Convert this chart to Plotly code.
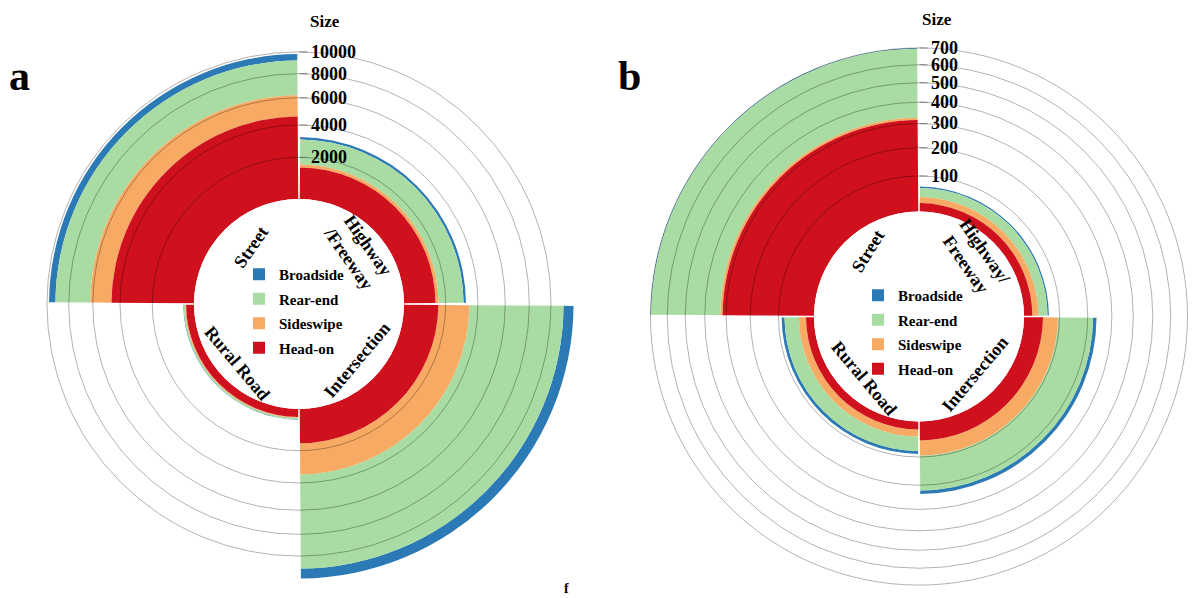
import numpy as np
import plotly.graph_objects as go

W, H = 1200, 598
PAGE_OFFSET = 8  # default body margin of the html page

# ---------------- data ----------------
categories = ["Street", "Highway/Freeway", "Intersection", "Rural Road"]
labels_a = ["Street", "Highway<br>/Freeway", "Intersection", "Rural Road"]
labels_b = ["Street", "Highway/<br>Freeway", "Intersection", "Rural Road"]
collision_types = ["Head-on", "Sideswipe", "Rear-end", "Broadside"]
colors = ["#cf111d", "#f7aa64", "#a9dca2", "#2b79b5"]

# panel a (order of categories above)
a_head_on = [4600, 1450, 1600, 330]
a_sideswipe = [1600, 160, 1830, 40]
a_rear_end = [3000, 1450, 7800, 60]
a_broadside = [600, 150, 1030, 20]
a_ticks = [2000, 4000, 6000, 8000, 10000]
a_tick_labels = ["2000", "4000", "6000", "8000", "10000"]

# panel b
b_head_on = [316, 21, 50, 20]
b_sideswipe = [10, 16, 45, 19]
b_rear_end = [370, 26, 126, 42]
b_broadside = [4, 4, 14, 9]
b_ticks = [100, 200, 300, 400, 500, 600, 700]
b_tick_labels = ["100", "200", "300", "400", "500", "600", "700"]

# ---------------- helpers ----------------
def px(x):
    return (x - PAGE_OFFSET) / W

def py(y):
    return 1 - (y - PAGE_OFFSET) / H

def radial(v, r0, k):
    # area-proportional radial scale: r^2 = r0^2 + k*v
    return np.sqrt(r0 ** 2 + k * np.asarray(v, dtype=float))

panels = [
    dict(name="a", sub="polar", grid="polar3", legend="legend",
         cx=299, cy=304, r0=105.0, k=5.25, umax=282.0,
         series=[a_head_on, a_sideswipe, a_rear_end, a_broadside],
         ticks=a_ticks, tick_labels=a_tick_labels),
    dict(name="b", sub="polar2", grid="polar4", legend="legend2",
         cx=919, cy=316.5, r0=105.0, k=87.25, umax=276.0,
         series=[b_head_on, b_sideswipe, b_rear_end, b_broadside],
         ticks=b_ticks, tick_labels=b_tick_labels),
]

theta = [135 - 90 * i for i in range(len(categories))]
serif = "Liberation Serif"

fig = go.Figure()
layout = {}

for p in panels:
    # cumulative stacking (Head-on innermost)
    lowers, uppers = [], []
    cum = np.zeros(len(categories))
    for vals in p["series"]:
        lowers.append(cum.copy())
        cum = cum + np.asarray(vals, dtype=float)
        uppers.append(cum.copy())
    # add outermost first so the legend lists Broadside on top
    for i in reversed(range(len(collision_types))):
        base = radial(lowers[i], p["r0"], p["k"])
        top = radial(uppers[i], p["r0"], p["k"])
        fig.add_trace(go.Barpolar(
            r=top - base, base=base, theta=theta, width=89.2,
            name=collision_types[i], marker=dict(color=colors[i], line=dict(width=0)),
            subplot=p["sub"], legend=p["legend"],
            legendgroup=p["name"] + collision_types[i], customdata=categories,
        ))
    dom_x = [px(p["cx"] - p["umax"]), px(p["cx"] + p["umax"])]
    dom_y = [py(p["cy"] + p["umax"]), py(p["cy"] - p["umax"])]
    tv = radial(p["ticks"], p["r0"], p["k"])
    common = dict(domain=dict(x=dom_x, y=dom_y), hole=p["r0"] / p["umax"],
                  bgcolor="rgba(0,0,0,0)")
    layout[p["sub"]] = dict(
        **common, barmode="overlay",
        radialaxis=dict(range=[p["r0"], p["umax"]], tickvals=tv, ticktext=p["tick_labels"],
                        angle=90, side="clockwise", tickangle=90,
                        showgrid=False, showline=False, ticks="outside", ticklen=8,
                        tickcolor="#9a9a9a",
                        tickfont=dict(family=serif, size=18, color="black", weight="bold")),
        angularaxis=dict(direction="counterclockwise", rotation=0, showgrid=False,
                         showline=False, showticklabels=False, ticks=""),
    )
    layout[p["grid"]] = dict(
        **common,
        radialaxis=dict(range=[p["r0"], p["umax"]], tickvals=tv, showticklabels=False,
                        showgrid=True, gridcolor="rgba(0,0,0,0.3)", gridwidth=1,
                        showline=False, ticks=""),
        angularaxis=dict(showgrid=False, showline=False, showticklabels=False, ticks=""),
    )

# empty traces so the overlay grid subplots are drawn on top
for p in panels:
    fig.add_trace(go.Scatterpolar(r=[], theta=[], subplot=p["grid"], showlegend=False))

legend_style = dict(bgcolor="rgba(0,0,0,0)", traceorder="grouped", tracegroupgap=2,
                    font=dict(family=serif, size=15, color="black", weight="bold"),
                    xanchor="left", yanchor="top", itemwidth=30)
layout["legend"] = dict(**legend_style, x=px(239), y=py(258))
layout["legend2"] = dict(**legend_style, x=px(858), y=py(279))

ann = []
def text(x, y, t, size=18, angle=0):
    ann.append(dict(x=px(x), y=py(y), xref="paper", yref="paper", text=t, showarrow=False,
                    textangle=angle, xanchor="center", yanchor="middle",
                    font=dict(family=serif, size=size, color="black", weight="bold")))

# category labels
pos_a = [(251, 247, -55), (358, 252, 55), (357, 360, -50), (237, 363, 50)]
pos_b = [(868, 251, -58), (975, 258, 55), (975, 374, -50), (864, 378, 50)]
for lab, (x, y, a) in zip(labels_a, pos_a):
    text(x, y, lab, 18, a)
for lab, (x, y, a) in zip(labels_b, pos_b):
    text(x, y, lab, 18, a)

text(325, 22, "Size", 17)
text(937, 20, "Size", 17)
text(19, 76, "a", 42)
text(629, 76, "b", 42)
text(566, 588, "f", 14)

fig.update_layout(
    width=W, height=H, margin=dict(l=0, r=0, t=0, b=0),
    paper_bgcolor="white", plot_bgcolor="white", showlegend=True,
    annotations=ann, **layout,
)

fig.write_html("out.html")
